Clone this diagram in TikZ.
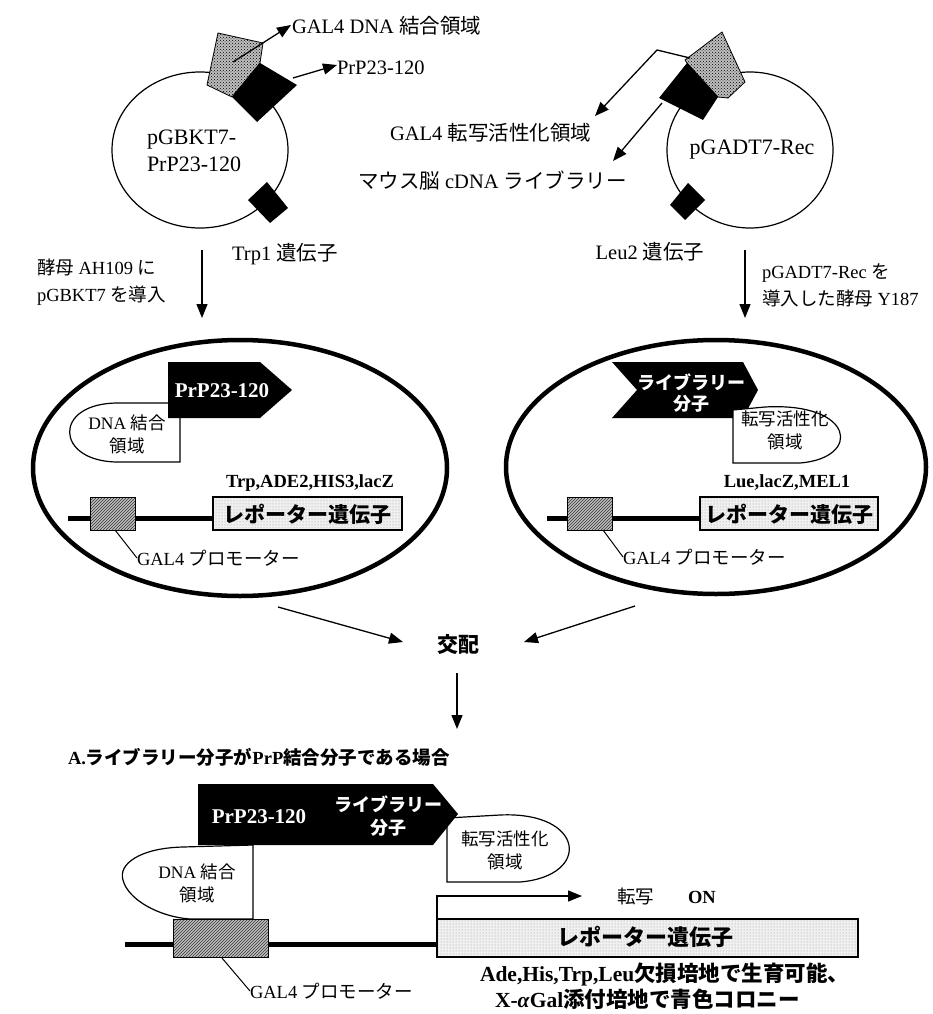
\documentclass[tikz,border=0pt]{standalone}
\usepackage{fontspec}
\setmainfont{Liberation Serif}
\newfontfamily\jpf{Noto Sans CJK JP}
\newcommand{\jtxt}[1]{{\jpf #1}}
\usetikzlibrary{arrows.meta,patterns}
\tikzset{
  every node/.style={inner sep=0pt, outer sep=0pt},
  t20/.style={font=\fontsize{20.5}{24}\selectfont},
  t21/.style={font=\fontsize{22}{27}\selectfont},
  t18/.style={font=\fontsize{18.5}{27}\selectfont},
  t17/.style={font=\fontsize{17.5}{23}\selectfont},
  b18/.style={font=\fontsize{18.5}{22}\selectfont\bfseries},
  b21/.style={font=\fontsize{21}{24}\selectfont\bfseries},
  arr/.style={line width=1.3pt, -{Triangle[length=14pt,width=11pt]}},
  plasmid/.style={draw, line width=1.2pt, fill=white},
  cell/.style={draw, line width=4.5pt},
  stipA/.style={draw, line width=0.8pt, preaction={fill=gray!50}, pattern=crosshatch dots, pattern color=black},
  hatch/.style={draw, line width=1pt, preaction={fill=gray!50}, pattern=north east lines, pattern color=black!80},
  rep/.style={draw, line width=1.2pt, preaction={fill=gray!12}, pattern=dots, pattern color=gray!80},
  dshape/.style={draw, line width=1.2pt, fill=white},
  dna/.style={line width=5pt},
  thin/.style={line width=1pt},
}
\begin{document}
\begin{tikzpicture}[x=1pt,y=-1pt]
\useasboundingbox (0,0) rectangle (932,1014);
\fill[white] (0,0) rectangle (932,1014);

% ---------- top-left plasmid ----------
\coordinate (pl1) at (200,150);
\draw[plasmid] (pl1) ellipse [x radius=88pt, y radius=78pt];
\draw[stipA] (218,33) -- (263,43) -- (260,63) -- (232,97) -- (207,85) -- cycle;
\fill (260,63) -- (297,85) -- (257,122) -- (232,97) -- cycle;
\fill (267,182) -- (288,208) -- (270,223) -- (248,200) -- cycle;
\node[t21, anchor=west, align=left] (pg1) at (147,151) {pGBKT7-\\PrP23-120};
\node[t20, anchor=west] (lbA) at (292,26) {GAL4 DNA \jtxt{結合領域}};
\node[t20, anchor=west] (lbB) at (337,68) {PrP23-120};
\coordinate (a1s) at (233,62);
\coordinate (a1e) at (291,25);
\coordinate (a2s) at (293,78);
\coordinate (a2e) at (337,65);
\draw[arr] (a1s) -- (a1e);
\draw[arr] (a2s) -- (a2e);

% ---------- top-right plasmid ----------
\coordinate (pl2) at (750,150);
\draw[plasmid] (pl2) ellipse [x radius=83pt, y radius=78pt];
\draw[stipA] (685,60) -- (722,32) -- (745,82) -- (728,98) -- (718,97) -- (687,63) -- cycle;
\fill (687,63) -- (718,97) -- (703,120) -- (659,98) -- cycle;
\fill (688,183) -- (705,200) -- (685,220) -- (670,205) -- cycle;
\node[t21] (pg2) at (752,150) {pGADT7-Rec};
\node[t20, anchor=west] (lbC) at (390,133) {GAL4 \jtxt{転写活性化領域}};
\node[t20, anchor=west] (lbD) at (358,181) {\jtxt{マウス脳} cDNA \jtxt{ライブラリー}};
\coordinate (r0) at (690,58);
\coordinate (r1) at (657,50);
\coordinate (r2) at (595,116);
\coordinate (r3) at (662,103);
\coordinate (r4) at (613,161);
\draw[arr] (r0) -- (r1) -- (r2);
\draw[arr] (r3) -- (r4);

% ---------- gene labels and arrows ----------
\node[t20] (trp) at (285,254) {Trp1 \jtxt{遺伝子}};
\node[t20] (leu) at (650,252) {Leu2 \jtxt{遺伝子}};
\node[t18, anchor=west, align=left] (yL) at (37,282) {\jtxt{酵母} AH109 \jtxt{に}\\pGBKT7 \jtxt{を導入}};
\node[t18, anchor=west, align=left] (yR) at (762,285) {pGADT7-Rec \jtxt{を}\\\jtxt{導入した酵母} Y187};
\coordinate (dL0) at (202,250);
\coordinate (dL1) at (202,318);
\coordinate (dR0) at (745,250);
\coordinate (dR1) at (745,318);
\draw[arr] (dL0) -- (dL1);
\draw[arr] (dR0) -- (dR1);

% ---------- left cell ----------
\coordinate (cL) at (240,468);
\draw[cell] (cL) ellipse [x radius=207pt, y radius=128pt];
\draw[dshape] (180,403) -- (118,403) .. controls (52,403) and (55,462) .. (118,462) -- (180,462) -- cycle;
\fill (168,362) -- (260,362) -- (292,390) -- (260,418) -- (168,418) -- cycle;
\node[b21, text=white] (prpL) at (222,391) {PrP23-120};
\node[t17, align=center] (dbL) at (127,434) {DNA \jtxt{結合}\\\jtxt{領域}};
\coordinate (dnaL0) at (68,518);
\coordinate (dnaL1) at (213,518);
\draw[dna] (dnaL0) -- (dnaL1);
\draw[hatch] (90,497) rectangle (135,530);
\draw[rep] (213,497) rectangle (402,530);
\node[font=\fontsize{21}{24}\selectfont\jpf\bfseries] (repL) at (307,514) {レポーター遺伝子};
\node[b18] (genesL) at (310,483) {Trp,ADE2,HIS3,lacZ};
\node[t18, anchor=west] (proL) at (137,558) {GAL4 \jtxt{プロモーター}};
\coordinate (pLa) at (115,530);
\draw[thin] (pLa) -- (proL.west);

% ---------- right cell ----------
\coordinate (cR) at (716,467);
\draw[cell] (cR) ellipse [x radius=210pt, y radius=127pt];
\fill (612,362) -- (743,362) -- (758,390) -- (743,418) -- (612,418) -- (637,390) -- cycle;
\draw[dshape] (733,410) -- (765,407) .. controls (855,402) and (862,458) .. (800,463) -- (733,463) -- cycle;
\node[font=\fontsize{18}{21}\selectfont\jpf\bfseries, text=white, align=center] (libR) at (691,393) {ライブラリー\\分子};
\node[t17, align=center] (adR) at (785,430) {\jtxt{転写活性化}\\\jtxt{領域}};
\coordinate (dnaR0) at (547,518);
\coordinate (dnaR1) at (700,518);
\draw[dna] (dnaR0) -- (dnaR1);
\draw[hatch] (567,497) rectangle (612,530);
\draw[rep] (700,497) rectangle (878,530);
\node[font=\fontsize{21}{24}\selectfont\jpf\bfseries] (repR) at (789,514) {レポーター遺伝子};
\node[b18] (genesR) at (787,483) {Lue,lacZ,MEL1};
\node[t18, anchor=west] (proR) at (623,557) {GAL4 \jtxt{プロモーター}};
\coordinate (pRa) at (603,530);
\draw[thin] (pRa) -- (proR.west);

% ---------- mating ----------
\node[font=\fontsize{21}{24}\selectfont\jpf\bfseries] (mate) at (458,645) {交配};
\coordinate (mL0) at (278,607);
\coordinate (mL1) at (403,642);
\coordinate (mR0) at (635,606);
\coordinate (mR1) at (524,642);
\draw[arr] (mL0) -- (mL1);
\draw[arr] (mR0) -- (mR1);
\coordinate (dm0) at (457,673);
\coordinate (dm1) at (457,729);
\draw[arr] (dm0) -- (dm1);

\node[anchor=west, font=\fontsize{18.5}{21}\selectfont\bfseries] (caseA) at (68,757) {A.\jtxt{ライブラリー分子が}PrP\jtxt{結合分子である場合}};

% ---------- bottom complex ----------
\draw[dshape] (447,818) -- (500,815) .. controls (585,811) and (592,876) .. (520,882) -- (447,882) -- cycle;
\draw[dshape] (253,845) -- (183,847) .. controls (140,848) and (118,864) .. (123,880) .. controls (128,900) and (160,917) .. (190,919) -- (253,919) -- cycle;
\fill (198,784) -- (433,784) -- (458,814) -- (433,845) -- (198,845) -- cycle;
\node[b21, text=white] (prpB) at (259,817) {PrP23-120};
\node[font=\fontsize{18}{23}\selectfont\jpf\bfseries, text=white, align=center] (libB) at (388,816) {ライブラリー\\分子};
\node[t17, align=center] (dbB) at (197,883) {DNA \jtxt{結合}\\\jtxt{領域}};
\node[t17, align=center] (adB) at (505,850) {\jtxt{転写活性化}\\\jtxt{領域}};
\coordinate (dnaB0) at (125,944);
\coordinate (dnaB1) at (437,944);
\draw[dna] (dnaB0) -- (dnaB1);
\draw[hatch] (173,919) rectangle (268,957);
\draw[rep] (437,919) rectangle (858,957);
\node[font=\fontsize{22}{24}\selectfont\jpf\bfseries] (repB) at (645,937) {レポーター遺伝子};
\coordinate (tx0) at (437,919);
\coordinate (tx1) at (582,896);
\draw[arr] (tx0) |- (tx1);
\node[t18, anchor=west] (txt) at (617,896) {\jtxt{転写}};
\node[b18, anchor=west] (on) at (688,897) {ON};
\node[t18, anchor=west] (proB) at (250,991) {GAL4 \jtxt{プロモーター}};
\coordinate (pBa) at (222,958);
\draw[thin] (pBa) -- (proB.west);
\node[anchor=west, font=\fontsize{21.5}{24}\selectfont\bfseries] (res1) at (480,974) {Ade,His,Trp,Leu\jtxt{欠損培地で生育可能、}};
\node[anchor=west, font=\fontsize{21.5}{24}\selectfont\bfseries] (res2) at (495,999) {X-\textit{α}Gal\jtxt{添付培地で青色コロニー}};
\end{tikzpicture}
\end{document}
